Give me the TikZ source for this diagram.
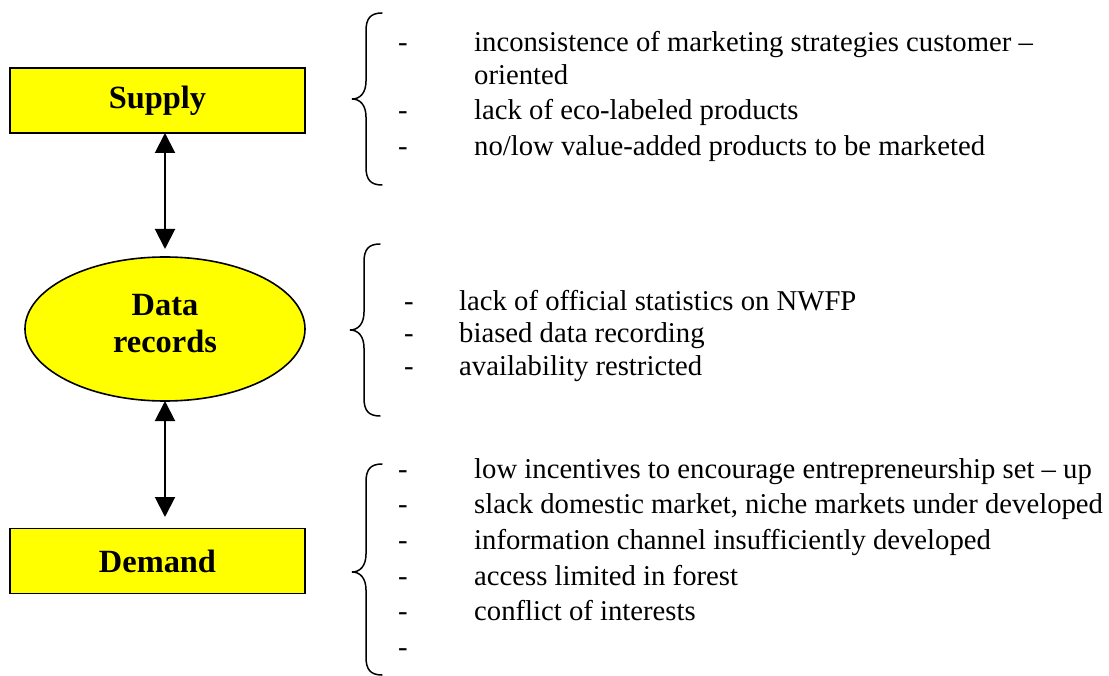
\documentclass[tikz,border=0pt]{standalone}
\usepackage{fontspec}
\setmainfont{Liberation Serif}
\usetikzlibrary{shapes.geometric,arrows.meta}
\definecolor{pureyellow}{RGB}{255,255,0}
\newcommand\wbrace[4]{% #1 end x, #2 top y, #3 tip y, #4 bottom y ; tip x = #1-30
  \draw[bracestyle] (#1,#2) .. controls (#1-12,#2) and (#1-16,#2+6) .. (#1-16,#2+18)
    -- (#1-16,#3-18) .. controls (#1-16,#3-6) and (#1-22,#3) .. (#1-30,#3)
    .. controls (#1-22,#3) and (#1-16,#3+6) .. (#1-16,#3+18)
    -- (#1-16,#4-18) .. controls (#1-16,#4-6) and (#1-12,#4) .. (#1,#4);}
\tikzset{
  keybox/.style={draw=black, line width=1.6pt, fill=pureyellow, inner sep=0pt},
  keylabel/.style={font=\fontsize{32.4}{37}\selectfont\bfseries, inner sep=0pt, align=center},
  itemtext/.style={font=\fontsize{28.7}{34}\selectfont, inner sep=0pt, anchor=base west},
  bracestyle/.style={line width=1.5pt, line cap=round},
  link/.style={line width=2pt, {Triangle[width=20pt,length=20pt]}-{Triangle[width=20pt,length=20pt]}}
}
\begin{document}
\begin{tikzpicture}[x=1pt,y=-1pt]
\useasboundingbox[fill=white] (0,0) rectangle (1109,676);
% left nodes
\node[keybox, keylabel, rectangle, minimum width=295pt, minimum height=65pt] (supply) at (157.5,100.5) {Supply};
\node[keybox, ellipse, minimum width=280pt, minimum height=144pt] (data) at (165,329) {};
\node[keylabel] (datalbl) at (165,323.5) {Data\\records};
\node[keybox, keylabel, rectangle, minimum width=295pt, minimum height=65pt] (demand) at (157.5,561) {Demand};
% arrows
\coordinate (a1t) at (165,133);
\coordinate (a1b) at (165,249);
\coordinate (a2t) at (165,401);
\coordinate (a2b) at (165,517);
\draw[link] (a1t) -- (a1b);
\draw[link] (a2t) -- (a2b);
% braces
\wbrace{382}{13}{99}{185}
\wbrace{380}{244}{330}{416}
\wbrace{382}{464}{572}{675}
% supply items
\node[itemtext] (sd1) at (398,52) {-};
\node[itemtext] (st1) at (474,52) {inconsistence of marketing strategies customer –};
\node[itemtext] (st1b) at (474,85) {oriented};
\node[itemtext] (sd2) at (398,120) {-};
\node[itemtext] (st2) at (474,120) {lack of eco-labeled products};
\node[itemtext] (sd3) at (398,156) {-};
\node[itemtext] (st3) at (474,156) {no/low value-added products to be marketed};
% data items
\node[itemtext] (dd1) at (404,311) {-};
\node[itemtext] (dt1) at (459,311) {lack of official statistics on NWFP};
\node[itemtext] (dd2) at (404,343) {-};
\node[itemtext] (dt2) at (459,343) {biased data recording};
\node[itemtext] (dd3) at (404,376) {-};
\node[itemtext] (dt3) at (459,376) {availability restricted};
% demand items
\node[itemtext] (md1) at (398,478) {-};
\node[itemtext] (mt1) at (474,478) {low incentives to encourage entrepreneurship set – up};
\node[itemtext] (md2) at (398,513) {-};
\node[itemtext] (mt2) at (474,513) {slack domestic market, niche markets under developed};
\node[itemtext] (md3) at (398,549) {-};
\node[itemtext] (mt3) at (474,549) {information channel insufficiently developed};
\node[itemtext] (md4) at (398,585) {-};
\node[itemtext] (mt4) at (474,585) {access limited in forest};
\node[itemtext] (md5) at (398,620) {-};
\node[itemtext] (mt5) at (474,620) {conflict of interests};
\node[itemtext] (md6) at (398,656) {-};
\end{tikzpicture}
\end{document}
